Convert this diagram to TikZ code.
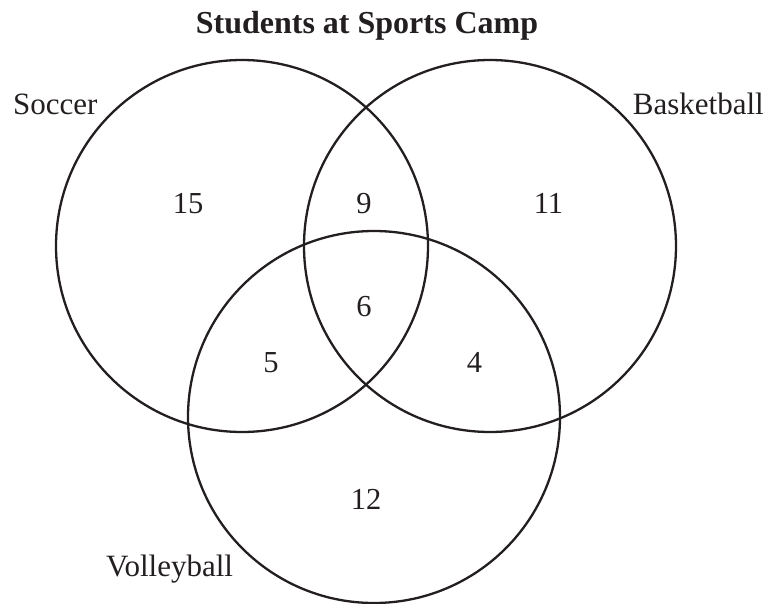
\documentclass[tikz,border=0pt]{standalone}
\usepackage{fontspec}
\setmainfont{Liberation Serif}
\definecolor{ink}{RGB}{35,31,32}
\begin{document}
\begin{tikzpicture}[x=1pt,y=-1pt,
  ring/.style={draw=ink,line width=2.3pt},
  lbl/.style={inner sep=0pt,text=ink,font=\fontsize{31}{31}\selectfont},
  num/.style={inner sep=0pt,text=ink,anchor=base,font=\fontsize{30.5}{30.5}\selectfont},
  ttl/.style={inner sep=0pt,text=ink,anchor=base,font=\fontsize{32}{32}\selectfont\bfseries}]
\useasboundingbox (0,0) rectangle (769,603);
\coordinate (cS) at (242,246);
\coordinate (cB) at (490,246);
\coordinate (cV) at (374,417);
\draw[ring] (cS) circle[radius=186];
\draw[ring] (cB) circle[radius=186];
\draw[ring] (cV) circle[radius=186];
\node[ttl] (title) at (367,33) {Students at Sports Camp};
\node[lbl,anchor=base west] (soccer) at (13,114) {Soccer};
\node[lbl,anchor=base east] (basket) at (764,114) {Basketball};
\node[lbl,anchor=base west] (volley) at (106,576) {Volleyball};
\node[num] (n15) at (188,213) {15};
\node[num] (n9) at (364,213) {9};
\node[num] (n11) at (548.5,213) {11};
\node[num] (n6) at (364,316.5) {6};
\node[num] (n5) at (271,372.5) {5};
\node[num] (n4) at (474.5,372.5) {4};
\node[num] (n12) at (366,509) {12};
\end{tikzpicture}
\end{document}
